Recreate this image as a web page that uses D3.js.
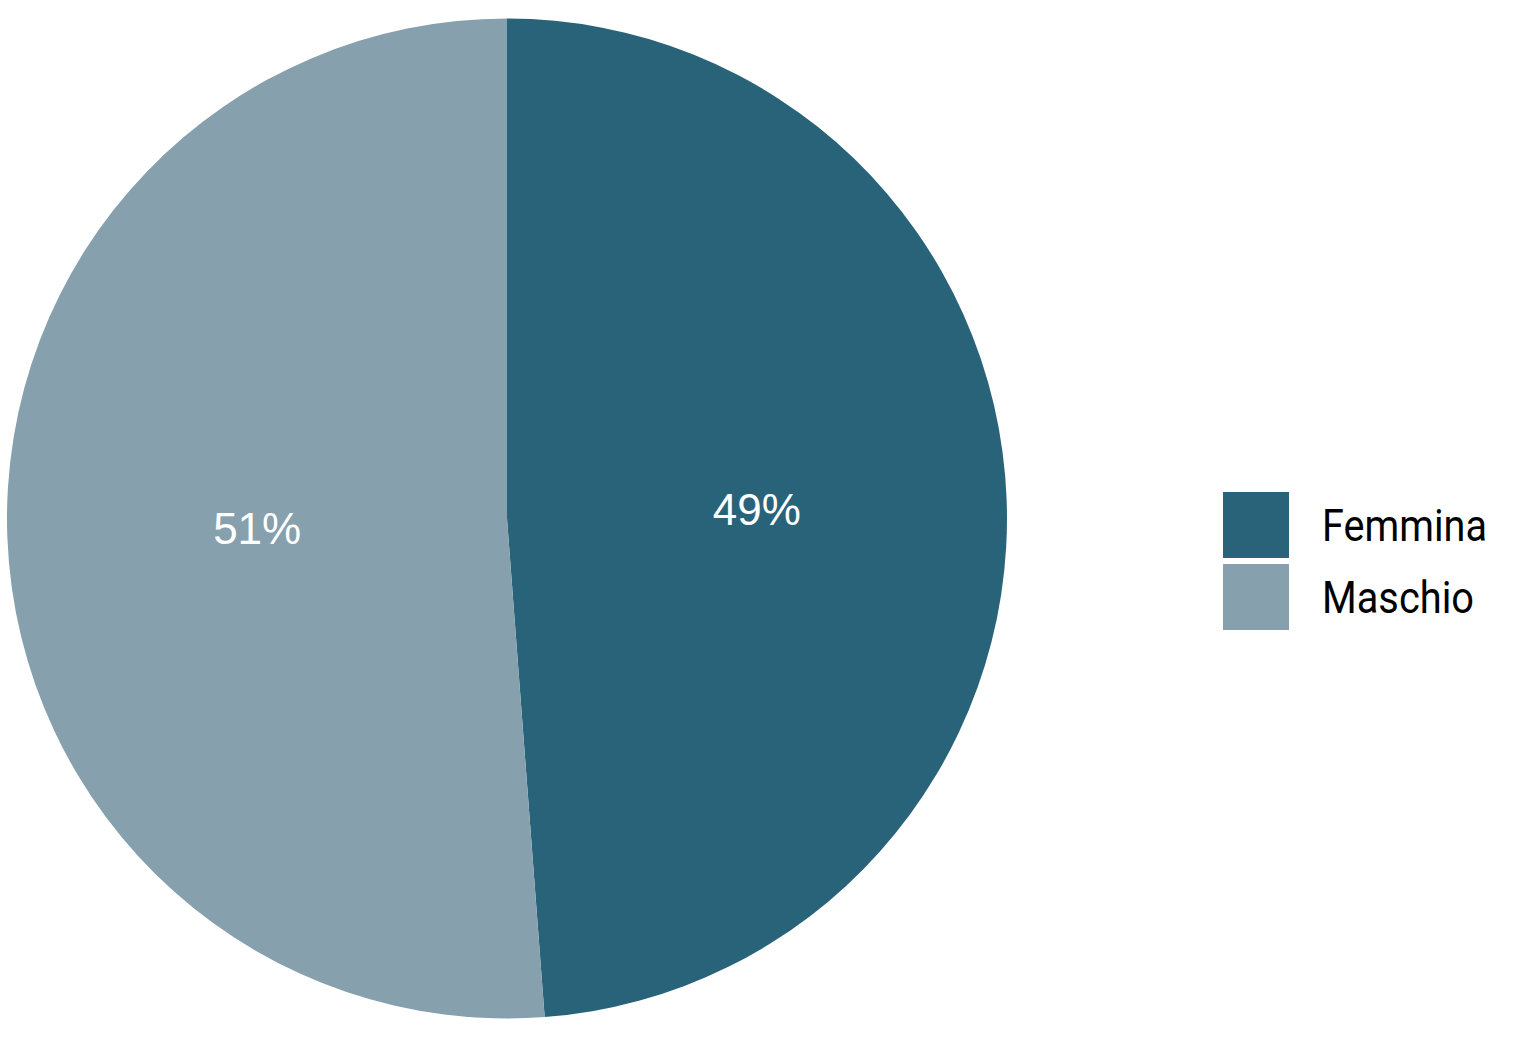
<!DOCTYPE html>
<html><head><meta charset="utf-8">
<script src="https://cdn.jsdelivr.net/npm/d3@7"></script>
<style>body{margin:0;background:#fff}</style>
</head><body>
<script>
const categories = ["Femmina", "Maschio"];
const values = [48.8, 51.2];
const labels = ["49%", "51%"];
const colors = ["#29637A", "#86A0AD"];

const W = 1530, H = 1060;
const svg = d3.select("body").append("svg").attr("width", W).attr("height", H);
const cx = 507, cy = 518.5, R = 500;
const data = categories.map((c, i) => ({cat: c, v: values[i], lab: labels[i], col: colors[i]}));
const pie = d3.pie().value(d => d.v).sort(null);
const arc = d3.arc().innerRadius(0).outerRadius(R);
const labelArc = d3.arc().innerRadius(R / 2).outerRadius(R / 2);
const g = svg.append("g").attr("transform", `translate(${cx},${cy})`);
const arcs = pie(data);
g.selectAll("path").data(arcs).join("path").attr("d", arc).attr("fill", d => d.data.col);
g.selectAll("text").data(arcs).join("text")
  .attr("transform", d => `translate(${labelArc.centroid(d)})`)
  .attr("text-anchor", "middle").attr("dy", "0.36em")
  .attr("font-family", "Liberation Sans, Arial, sans-serif").attr("font-size", 44)
  .attr("fill", "#fff").text(d => d.data.lab);

const leg = svg.append("g");
const widths = [165, 152];
data.forEach((d, i) => {
  const y = 492 + i * 72;
  leg.append("rect").attr("x", 1223).attr("y", y).attr("width", 66).attr("height", 66).attr("fill", d.col);
  leg.append("text").attr("x", 1322).attr("y", y + 49)
    .attr("font-family", "Roboto, sans-serif").attr("font-size", 45)
    .attr("textLength", widths[i]).attr("lengthAdjust", "spacingAndGlyphs")
    .attr("fill", "#000").text(d.cat);
});
</script>
</body></html>
